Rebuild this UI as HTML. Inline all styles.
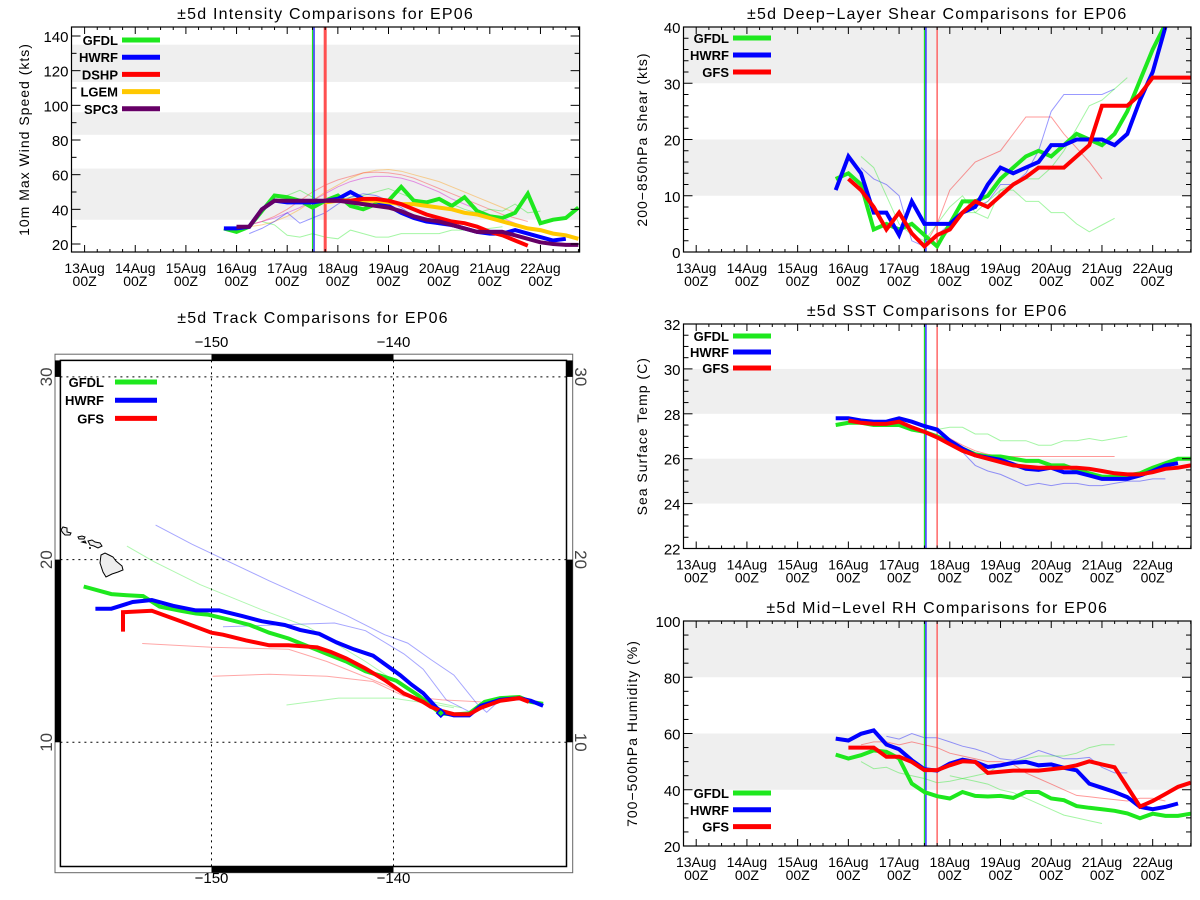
<!DOCTYPE html>
<html><head><meta charset="utf-8">
<style>
html,body{margin:0;padding:0;background:#fff;}
svg{display:block;font-family:"Liberation Sans",sans-serif;}
</style></head>
<body>
<svg id="chart" width="1200" height="900" viewBox="0 0 1200 900" xmlns="http://www.w3.org/2000/svg">
<rect x="0" y="0" width="1200" height="900" fill="#fff"/>
</svg>
<script>
// ---------- DATA ----------
const dayLabels = ["13Aug","14Aug","15Aug","16Aug","17Aug","18Aug","19Aug","20Aug","21Aug","22Aug"];
// intensity (kts), 6-hourly from given start day (days since 13Aug 00Z)
const intGfdlStart = 2.75;
const intGfdl = [29,27,30,39,48,47,45,41,45,48,42,40,43,45,53,45,44,46,42,47,39,36,35,38,49,32,34,35,41];
const intHwrfStart = 2.75;
const intHwrf = [29,29,30,40,45,44,44,44,45,46,50,46,45,42,38,35,33,32,31,29,27,26,26,28,26,24,22,23];
const intDshpStart = 4.75;
const intDshp = [45,45,45,46,46,45,43,40,37,35,33,32,30,27,25,22,19];
const intLgemStart = 4.75;
const intLgem = [44,45,45,45,45,44,43,43,42,41,40,38,37,35,33,31,29,28,26,25,23];
const intSpc3Start = 3.0;
const intSpc3 = [30,30,40,45,45,45,45,45,45,44,43,42,41,39,36,34,33,31,29,27,27,27,25,23,21,20,19.5,19.5];
const intOldLgem = [30,31,33,36,40,45,50,54,58,61,62.5,63,62,60,58,56,53,50,47,44,41,38];
const intOldDshp = [31,33,36,40,45,50,54,57,59,61,61.5,61,60,58,55,52,49,46,43,40,37,35,33];
const intOldSpc3 = [31,33,35,38,41,45,49,53,56,58,59,59,58,56,53,50,46,43,40,37,35,32,29,27];
const intOldGfdlLow = [33,31,25,24,26,24,23,28,26,24,24,26,26,26,26,28,28,28,29,30];
const intOldGfdlHigh = [40,46,48,51,47,44,45,47,48,50,52,49,46,44,46,43,40,38,40,39,43,38,39];
const intOldHwrf = [26,29,33,38,32,35,38,43,47,49,48,45,41,36,33,31,30,29,28,28,28];
// shear (kts)
const shGfdl = [13,14,12,4,5,4,5,3,1,5,9,9,10,13,15,17,18,17,19,21,20,19,21,25,30.5,36,40.5];
const shHwrf = [11,17,14,7,7,3,9,5,5,5,7,8,12,15,14,15,16,19,19,20,20,20,19,21,27,32,40];
const shGfs = [13,11,8,4,7,3.3,1,3,4,7,9,8,10,12,13.3,15,15,15,17,19,26,26,26,28,31,31,31,31];
const shOldGfs = [1,5,11,13.5,16,17,18,21,24,24,24,21,18.5,16,13];
const shOldHwrf = [15,13,12,10,2,1,3,5,7,8,9,12,12,14,18,25,28,28,28,28,29];
const shOldGfdl = [17,15,10,5,3,2,5,8,10,7,6,11,11,9,9,7,7,5,3.6,4.8,6];
const shOldGfdl2 = [1,4,7,7,9,11,12,13,13,15,18,22,26,27,29,31];
// SST (C)
const sstGfdl = [27.5,27.6,27.6,27.5,27.5,27.5,27.3,27.2,27.0,26.75,26.45,26.2,26.1,26.1,26.0,25.9,25.9,25.7,25.7,25.5,25.35,25.2,25.2,25.25,25.35,25.6,25.8,26.0,26.0];
const sstHwrf = [27.8,27.8,27.7,27.65,27.65,27.8,27.65,27.45,27.3,26.8,26.45,26.15,26.05,25.95,25.75,25.55,25.5,25.6,25.4,25.4,25.25,25.1,25.1,25.1,25.25,25.45,25.7,25.8];
const sstGfs = [27.7,27.6,27.55,27.55,27.65,27.4,27.2,26.95,26.65,26.35,26.15,26.0,25.85,25.7,25.65,25.6,25.6,25.6,25.6,25.55,25.45,25.35,25.3,25.3,25.4,25.55,25.6,25.7];
const sstOldGfdl = [27.3,27.4,27.4,27.1,27.1,26.8,26.8,26.8,26.6,26.6,26.8,26.8,26.9,26.8,26.9,27.0];
const sstOldHwrf = [27.4,27.2,26.8,26.3,25.7,25.45,25.3,25.05,24.8,24.9,24.8,24.9,24.9,24.8,24.8,24.9,25.0,25.0,25.1,25.1];
const sstOldGfs = [26.9,26.6,26.35,26.2,26.1,26.1,26.1,26.1,26.1,26.1,26.1,26.1,26.1,26.1];
// RH (%)
const rhGfdl = [52.5,51.1,52.3,54,53.5,51.1,42.2,39.2,37.7,36.9,39.2,37.8,37.6,37.8,37.1,39.2,39.2,36.9,36.3,34.2,33.6,33.1,32.5,31.6,29.9,31.5,30.7,30.7,31.5];
const rhHwrf = [58.2,57.5,59.9,61.1,56.1,54.4,50.5,47.3,46.8,49.3,50.7,49.9,48.1,48.7,49.6,49.9,48.7,49.0,47.8,46.9,42.2,40.7,39.2,37.4,33.9,33.1,33.9,35.1];
const rhGfs = [55,55,55,51.7,51.7,49.9,47,47,48.7,50.1,49.9,46,46.4,46.8,46.8,46.8,47.3,47.8,48.7,50.1,49,48,41,34,36,38.5,41,42.5];
const rhOldHwrf = [59,58,60,58.5,58.5,57,55.5,54.5,53,51,50.5,52,54,52.5,51,51,51.5,48,46,46];
const rhOldGfs = [56,57,57,56,57,56,55,53,52,51,50,50,49,46,44,42,40,38,37.5,37,36.5,36,37,37,36];
const rhOldGfdl = [50,47.5,48,46,45,44,42.5,43,44,43,42,40,39,37,35,33,31,30,29,28];
const rhOldGfdl2 = [45,44,45,46,49,50,51,52,52,52,53,55,56,56];
// tracks (lon, lat)
const trGfdlLon = [-157.02,-155.50,-154.65,-153.76,-152.85,-151.69,-150.85,-150.21,-148.94,-147.89,-146.83,-145.77,-144.71,-143.66,-142.60,-141.54,-140.49,-139.85,-139.22,-138.58,-137.95,-137.42,-136.68,-135.84,-134.99,-134.14,-133.09,-132.45,-131.78];
const trGfdlLat = [18.53,18.11,18.05,18.0,17.43,17.2,17.05,16.99,16.69,16.42,16.0,15.68,15.26,14.84,14.42,13.89,13.58,13.37,12.95,12.53,12.0,11.58,11.52,11.58,12.21,12.42,12.48,12.21,12.11];
const trHwrfLon = [-156.38,-155.50,-154.33,-153.28,-152.11,-150.85,-149.58,-148.31,-147.25,-145.98,-145.14,-144.08,-143.13,-142.18,-141.12,-140.38,-139.64,-139.01,-138.37,-137.63,-137.32,-136.68,-135.84,-135.20,-134.14,-133.09,-132.45,-131.78];
const trHwrfLat = [17.31,17.31,17.68,17.79,17.47,17.22,17.22,16.91,16.63,16.42,16.15,15.94,15.47,15.09,14.74,14.21,13.68,13.16,12.69,11.89,11.64,11.47,11.47,12.0,12.32,12.42,12.27,12.0];
const trGfsLon = [-154.86,-154.86,-153.28,-151.69,-150.0,-149.37,-148.10,-146.83,-145.77,-144.19,-143.45,-142.60,-141.54,-140.49,-139.43,-138.37,-137.95,-137.42,-136.68,-135.84,-135.20,-134.14,-133.09,-132.56];
const trGfsLat = [16.06,17.12,17.2,16.63,16.0,15.89,15.58,15.31,15.31,15.2,14.95,14.59,14.04,13.41,12.67,12.21,11.94,11.73,11.54,11.54,11.89,12.27,12.42,12.21];
const trOldHwrf1Lon = [-153.07,-151.06,-146.83,-142.6,-140.49,-139.22,-137.95,-136.68,-135.41,-134.88,-134.14];
const trOldHwrf1Lat = [21.89,20.84,18.84,16.95,15.89,15.43,14.53,13.68,12.11,11.64,12.32];
const trOldHwrf2Lon = [-149.37,-143.24,-141.54,-139.43,-138.37,-137.1,-135.84];
const trOldHwrf2Lat = [16.32,16.53,16.11,14.84,14.0,12.32,11.68];
const trOldGfdl1Lon = [-154.65,-153.17,-150.63,-147.25,-144.71,-141.54,-138.37,-136.26];
const trOldGfdl1Lat = [20.74,19.89,18.63,17.26,16.32,14.42,12.32,11.89];
const trOldGfdl2Lon = [-145.88,-143.02,-140.06,-137.95,-136.68];
const trOldGfdl2Lat = [12.04,12.42,12.42,12.11,11.89];
const trOldGfs1Lon = [-153.81,-150,-145.77,-143.66,-140.49,-137.95];
const trOldGfs1Lat = [15.41,15.2,15.09,14.42,13.16,11.89];
const trOldGfs2Lon = [-149.94,-146.83,-143.66,-141.12,-139.43,-137.32,-135.2];
const trOldGfs2Lat = [13.62,13.73,13.62,13.33,12.53,12.32,12.21];
const stormLon = [-137.4];
const stormLat = [11.6];

// ---------- DRAWING ----------
const NS = 'http://www.w3.org/2000/svg';
const svg = document.getElementById('chart');
function mk(tag, attrs, name, parent) {
  const el = document.createElementNS(NS, tag);
  for (const k in attrs) el.setAttribute(k, attrs[k]);
  
  
  (parent || svg).appendChild(el);
  return el;
}
function txt(s, x, y, attrs, name, parent) {
  const el = mk('text', Object.assign({x: x, y: y, fill: '#000'}, attrs), name, parent);
  el.textContent = s;
  return el;
}
const GREEN = '#1ee81e', BLUE = '#0000ff', RED = '#ff0000', YEL = '#ffc800', PUR = '#660066';

function panel(cfg) {
  const g = mk('g', {}, cfg.name);
  const X = t => cfg.tx0 + t * cfg.ppd;
  const Y = v => cfg.y1 - (v - cfg.vmin) / (cfg.vmax - cfg.vmin) * (cfg.y1 - cfg.y0);
  const cp = 'clip-' + cfg.name;
  const defs = mk('defs', {}, 'clip-defs', g);
  const c = mk('clipPath', {id: cp}, 'plot-clip', defs);
  mk('rect', {x: cfg.x0, y: cfg.y0, width: cfg.x1 - cfg.x0, height: cfg.y1 - cfg.y0}, 'clip-rect', c);
  cfg.bands.forEach(b => {
    const ya = Math.max(cfg.y0, Y(b[1])), yb = Math.min(cfg.y1, Y(b[0]));
    mk('rect', {x: cfg.x0, y: ya, width: cfg.x1 - cfg.x0, height: yb - ya, fill: '#efefef'}, 'gray-band', g);
  });
  const pg = mk('g', {'clip-path': 'url(#' + cp + ')'}, 'plot-area', g);
  cfg.thin.forEach(s => {
    const pts = s.vals.map((v, i) => X(s.start + i * 0.25).toFixed(1) + ',' + Y(v).toFixed(1)).join(' ');
    mk('polyline', {points: pts, fill: 'none', stroke: s.color, 'stroke-width': 1, 'stroke-opacity': 0.4}, 'previous-forecast-line', pg);
  });
  mk('line', {x1: X(4.5), x2: X(4.5), y1: cfg.y0, y2: cfg.y1, stroke: GREEN, 'stroke-width': 1.2}, 'gfdl-init-line', pg);
  mk('line', {x1: X(4.5) + 1.5, x2: X(4.5) + 1.5, y1: cfg.y0, y2: cfg.y1, stroke: BLUE, 'stroke-width': 1.2}, 'hwrf-init-line', pg);
  mk('line', {x1: X(4.75), x2: X(4.75), y1: cfg.y0, y2: cfg.y1, stroke: '#ff5050', 'stroke-width': cfg.redW || 1.3}, 'gfs-init-line', pg);
  cfg.series.forEach(s => {
    const pts = s.vals.map((v, i) => X(s.start + i * 0.25).toFixed(1) + ',' + Y(v).toFixed(1)).join(' ');
    mk('polyline', {points: pts, fill: 'none', stroke: s.color, 'stroke-width': 4, 'stroke-linejoin': 'miter'}, s.label.toLowerCase() + '-series-line', pg);
  });
  mk('rect', {x: cfg.x0, y: cfg.y0, width: cfg.x1 - cfg.x0, height: cfg.y1 - cfg.y0, fill: 'none', stroke: '#000', 'stroke-width': 1.2}, 'plot-frame', g);
  for (let q = 0; q * 0.25 <= 9.9; q++) {
    const t = q * 0.25, x = X(t);
    if (x > cfg.x1) break;
    const L = (q % 4 === 0) ? 7 : 3;
    mk('line', {x1: x, x2: x, y1: cfg.y1, y2: cfg.y1 - L, stroke: '#000', 'stroke-width': 1}, 'x-tick', g);
    mk('line', {x1: x, x2: x, y1: cfg.y0, y2: cfg.y0 + L, stroke: '#000', 'stroke-width': 1}, 'x-tick-top', g);
  }
  dayLabels.forEach((d, i) => {
    txt(d, X(i), cfg.y1 + 21, {'font-size': 14, 'text-anchor': 'middle'}, 'x-tick-label-date', g);
    txt('00Z', X(i), cfg.y1 + 34, {'font-size': 14, 'text-anchor': 'middle'}, 'x-tick-label-hour', g);
  });
  for (let v = cfg.tickStart; v <= cfg.vmax + 1e-6; v += cfg.minor) {
    const y = Y(v);
    if (y < cfg.y0 - 0.5 || y > cfg.y1 + 0.5) continue;
    const major = Math.abs(((v - cfg.tickStart) / cfg.major) - Math.round((v - cfg.tickStart) / cfg.major)) < 1e-6;
    const L = major ? 9 : 5;
    mk('line', {x1: cfg.x0, x2: cfg.x0 + L, y1: y, y2: y, stroke: '#000', 'stroke-width': 1}, 'y-tick', g);
    mk('line', {x1: cfg.x1, x2: cfg.x1 - L, y1: y, y2: y, stroke: '#000', 'stroke-width': 1}, 'y-tick-right', g);
    if (major) txt(String(Math.round(v)), cfg.x0 - 3, y + 6, {'font-size': 15, 'text-anchor': 'end'}, 'y-tick-label', g);
  }
  txt(cfg.title, (cfg.x0 + cfg.x1) / 2, cfg.titleY, {'font-size': 16, 'text-anchor': 'middle', 'letter-spacing': 1.2}, 'panel-title', g);
  const cy = (cfg.y0 + cfg.y1) / 2;
  txt(cfg.ytitle, cfg.ytx, cy, {'font-size': 14, 'text-anchor': 'middle', 'letter-spacing': 1, transform: 'rotate(-90 ' + cfg.ytx + ' ' + cy + ')'}, 'y-axis-title', g);
  cfg.series.slice().sort((a, b) => a.order - b.order).forEach((s, i) => {
    const y = cfg.legY + i * cfg.legDy;
    txt(s.label, cfg.legLx, y + 5, {'font-size': 13, 'text-anchor': 'end', 'font-weight': 'bold'}, 'legend-label', g);
    mk('line', {x1: cfg.legLx + 4, x2: cfg.legLx + 42, y1: y, y2: y, stroke: s.color, 'stroke-width': 5}, 'legend-swatch', g);
  });
}

const LX = 683.5, RX = 1191, TX0 = 696.2, PPD = 50.72;
panel({name: 'intensity-panel', x0: 71.5, x1: 579.6, y0: 27, y1: 252, tx0: 84.6, ppd: 50.65,
  vmin: 20 - 8 / 1.7333, vmax: 20 + 217 / 1.7333, tickStart: 20, major: 20, minor: 10,
  bands: [[34, 63.5], [83, 96], [113.5, 135]], title: '\u00b15d Intensity Comparisons for EP06', titleY: 19,
  ytitle: '10m Max Wind Speed (kts)', ytx: 29, legLx: 118, legY: 40, legDy: 17.2, redW: 3,
  thin: [{color: '#ff9900', start: 3.25, vals: intOldLgem}, {color: '#ff3030', start: 3.25, vals: intOldDshp},
         {color: '#cc00cc', start: 3.25, vals: intOldSpc3}, {color: GREEN, start: 3.5, vals: intOldGfdlLow},
         {color: GREEN, start: 3.5, vals: intOldGfdlHigh}, {color: BLUE, start: 3.25, vals: intOldHwrf}],
  series: [{label: 'GFDL', color: GREEN, start: intGfdlStart, vals: intGfdl, order: 0},
           {label: 'HWRF', color: BLUE, start: intHwrfStart, vals: intHwrf, order: 1},
           {label: 'LGEM', color: YEL, start: intLgemStart, vals: intLgem, order: 3},
           {label: 'DSHP', color: RED, start: intDshpStart, vals: intDshp, order: 2},
           {label: 'SPC3', color: PUR, start: intSpc3Start, vals: intSpc3, order: 4}]});

panel({name: 'shear-panel', x0: LX, x1: RX, y0: 27, y1: 252, tx0: TX0, ppd: PPD,
  vmin: 0, vmax: 40, tickStart: 0, major: 10, minor: 2,
  bands: [[10, 20], [30, 40]], title: '\u00b15d Deep\u2212Layer Shear Comparisons for EP06', titleY: 19,
  ytitle: '200\u2212850hPa Shear (kts)', ytx: 647, legLx: 729, legY: 38, legDy: 17,
  thin: [{color: RED, start: 4.5, vals: shOldGfs}, {color: BLUE, start: 3.25, vals: shOldHwrf},
         {color: GREEN, start: 3.25, vals: shOldGfdl}, {color: GREEN, start: 4.75, vals: shOldGfdl2}],
  series: [{label: 'GFDL', color: GREEN, start: 2.75, vals: shGfdl, order: 0},
           {label: 'HWRF', color: BLUE, start: 2.75, vals: shHwrf, order: 1},
           {label: 'GFS', color: RED, start: 3.0, vals: shGfs, order: 2}]});

panel({name: 'sst-panel', x0: LX, x1: RX, y0: 324, y1: 548.5, tx0: TX0, ppd: PPD,
  vmin: 22, vmax: 32, tickStart: 22, major: 2, minor: 0.5,
  bands: [[24, 26], [28, 30]], title: '\u00b15d SST Comparisons for EP06', titleY: 316,
  ytitle: 'Sea Surface Temp (C)', ytx: 647, legLx: 729, legY: 336, legDy: 16,
  thin: [{color: GREEN, start: 4.75, vals: sstOldGfdl}, {color: BLUE, start: 4.5, vals: sstOldHwrf},
         {color: RED, start: 5.0, vals: sstOldGfs}],
  series: [{label: 'GFDL', color: GREEN, start: 2.75, vals: sstGfdl, order: 0},
           {label: 'HWRF', color: BLUE, start: 2.75, vals: sstHwrf, order: 1},
           {label: 'GFS', color: RED, start: 3.0, vals: sstGfs, order: 2}]});

panel({name: 'rh-panel', x0: LX, x1: RX, y0: 621, y1: 846, tx0: TX0, ppd: PPD,
  vmin: 20, vmax: 100, tickStart: 20, major: 20, minor: 5,
  bands: [[40, 60], [80, 100]], title: '\u00b15d Mid\u2212Level RH Comparisons for EP06', titleY: 613,
  ytitle: '700\u2212500hPa Humidity (%)', ytx: 637, legLx: 729, legY: 793, legDy: 16.8,
  thin: [{color: BLUE, start: 3.75, vals: rhOldHwrf}, {color: RED, start: 3.25, vals: rhOldGfs},
         {color: GREEN, start: 3.25, vals: rhOldGfdl}, {color: GREEN, start: 5.0, vals: rhOldGfdl2}],
  series: [{label: 'GFDL', color: GREEN, start: 2.75, vals: rhGfdl, order: 0},
           {label: 'HWRF', color: BLUE, start: 2.75, vals: rhHwrf, order: 1},
           {label: 'GFS', color: RED, start: 3.0, vals: rhGfs, order: 2}]});

// ---------- TRACK MAP ----------
(function () {
  const g = mk('g', {}, 'track-map-panel');
  const ix0 = 60.4, ix1 = 566.5, iy0 = 360.4, iy1 = 866.5;
  const LON = lon => 211.5 + (lon + 150) * 18.2;
  const LAT = lat => 559.6 - (lat - 20) * 18.27;
  txt('\u00b15d Track Comparisons for EP06', 313, 323, {'font-size': 16, 'text-anchor': 'middle', 'letter-spacing': 1.2}, 'map-title', g);
  mk('rect', {x: 55, y: 354.2, width: 517.7, height: 518.5, fill: 'none', stroke: '#666', 'stroke-width': 1}, 'map-outer-frame', g);
  mk('rect', {x: ix0, y: iy0, width: ix1 - ix0, height: iy1 - iy0, fill: 'none', stroke: '#000', 'stroke-width': 1.5}, 'map-inner-frame', g);
  mk('rect', {x: LON(-150), y: 354.2, width: LON(-140) - LON(-150), height: 6.2, fill: '#000'}, 'frame-bar-top', g);
  mk('rect', {x: LON(-150), y: iy1, width: LON(-140) - LON(-150), height: 6.2, fill: '#000'}, 'frame-bar-bottom', g);
  [[20, 10], [31, 30]].forEach(r => {
    mk('rect', {x: 55, y: Math.max(iy0, LAT(r[0])), width: 5.4, height: LAT(r[1]) - Math.max(iy0, LAT(r[0])), fill: '#000'}, 'frame-bar-left', g);
    mk('rect', {x: ix1, y: Math.max(iy0, LAT(r[0])), width: 6.2, height: LAT(r[1]) - Math.max(iy0, LAT(r[0])), fill: '#000'}, 'frame-bar-right', g);
  });
  [-150, -140].forEach(lon => {
    mk('line', {x1: LON(lon), x2: LON(lon), y1: iy0, y2: iy1, stroke: '#000', 'stroke-width': 1, 'stroke-dasharray': '2,4'}, 'longitude-gridline', g);
    const lab = '\u2212' + Math.abs(lon);
    txt(lab, LON(lon), 347, {'font-size': 15, 'text-anchor': 'middle'}, 'longitude-label-top', g);
    txt(lab, LON(lon), 883, {'font-size': 15, 'text-anchor': 'middle'}, 'longitude-label-bottom', g);
  });
  [10, 20, 30].forEach(lat => {
    const y = LAT(lat);
    mk('line', {x1: ix0, x2: ix1, y1: y, y2: y, stroke: '#000', 'stroke-width': 1, 'stroke-dasharray': '2,4'}, 'latitude-gridline', g);
    txt(String(lat), 52, y, {'font-size': 17, 'text-anchor': 'middle', fill: '#444', transform: 'rotate(-90 52 ' + y + ')'}, 'latitude-label-left', g);
    txt(String(lat), 575, y, {'font-size': 17, 'text-anchor': 'middle', fill: '#444', transform: 'rotate(90 575 ' + y + ')'}, 'latitude-label-right', g);
  });
  mk('polygon', {points: '61,530 63,527 67,528 67,532 71,533 70,535 65,535 63,533', fill: '#eee', stroke: '#000', 'stroke-width': 1}, 'island-kauai', g);
  mk('polygon', {points: '78,537 82,536 85,537 84,539 79,539', fill: '#eee', stroke: '#000', 'stroke-width': 1}, 'island-oahu', g);
  mk('polygon', {points: '82,542 85,541 86,543', fill: '#eee', stroke: '#000', 'stroke-width': 1}, 'island-molokai', g);
  mk('polygon', {points: '88,541 92,540 95,542 100,543 102,546 98,548 94,546 90,545', fill: '#eee', stroke: '#000', 'stroke-width': 1}, 'island-maui', g);
  mk('circle', {cx: 90, cy: 548, r: 1, fill: '#000'}, 'island-kahoolawe', g);
  mk('polygon', {points: '101,555 105,553 109,555 113,557 116,561 122,566 123,570 118,572 112,574 106,577 103,572 100,563', fill: '#eee', stroke: '#000', 'stroke-width': 1}, 'island-big-island', g);
  const thin = [[trOldHwrf1Lon, trOldHwrf1Lat, BLUE], [trOldHwrf2Lon, trOldHwrf2Lat, BLUE],
    [trOldGfdl1Lon, trOldGfdl1Lat, GREEN], [trOldGfdl2Lon, trOldGfdl2Lat, GREEN],
    [trOldGfs1Lon, trOldGfs1Lat, RED], [trOldGfs2Lon, trOldGfs2Lat, RED]];
  thin.forEach(t => {
    const pts = t[0].map((lo, i) => LON(lo).toFixed(1) + ',' + LAT(t[1][i]).toFixed(1)).join(' ');
    mk('polyline', {points: pts, fill: 'none', stroke: t[2], 'stroke-width': 1, 'stroke-opacity': 0.35}, 'previous-track-line', g);
  });
  const thick = [[trGfdlLon, trGfdlLat, GREEN, 'gfdl-track'], [trHwrfLon, trHwrfLat, BLUE, 'hwrf-track'], [trGfsLon, trGfsLat, RED, 'gfs-track']];
  thick.forEach(t => {
    const pts = t[0].map((lo, i) => LON(lo).toFixed(1) + ',' + LAT(t[1][i]).toFixed(1)).join(' ');
    mk('polyline', {points: pts, fill: 'none', stroke: t[2], 'stroke-width': 4}, t[3], g);
  });
  const sx = LON(stormLon[0]), sy = LAT(stormLat[0]);
  mk('polygon', {points: (sx) + ',' + (sy - 4) + ' ' + (sx + 4) + ',' + sy + ' ' + sx + ',' + (sy + 4) + ' ' + (sx - 4) + ',' + sy, fill: '#1ee81e', stroke: BLUE, 'stroke-width': 1.5}, 'current-position-marker', g);
  [['GFDL', GREEN], ['HWRF', BLUE], ['GFS', RED]].forEach((e, i) => {
    const y = 382 + i * 18.2;
    txt(e[0], 104, y + 5, {'font-size': 13, 'text-anchor': 'end', 'font-weight': 'bold'}, 'legend-label', g);
    mk('line', {x1: 115, x2: 157, y1: y, y2: y, stroke: e[1], 'stroke-width': 5}, 'legend-swatch', g);
  });
})();
</script>
</body></html>
